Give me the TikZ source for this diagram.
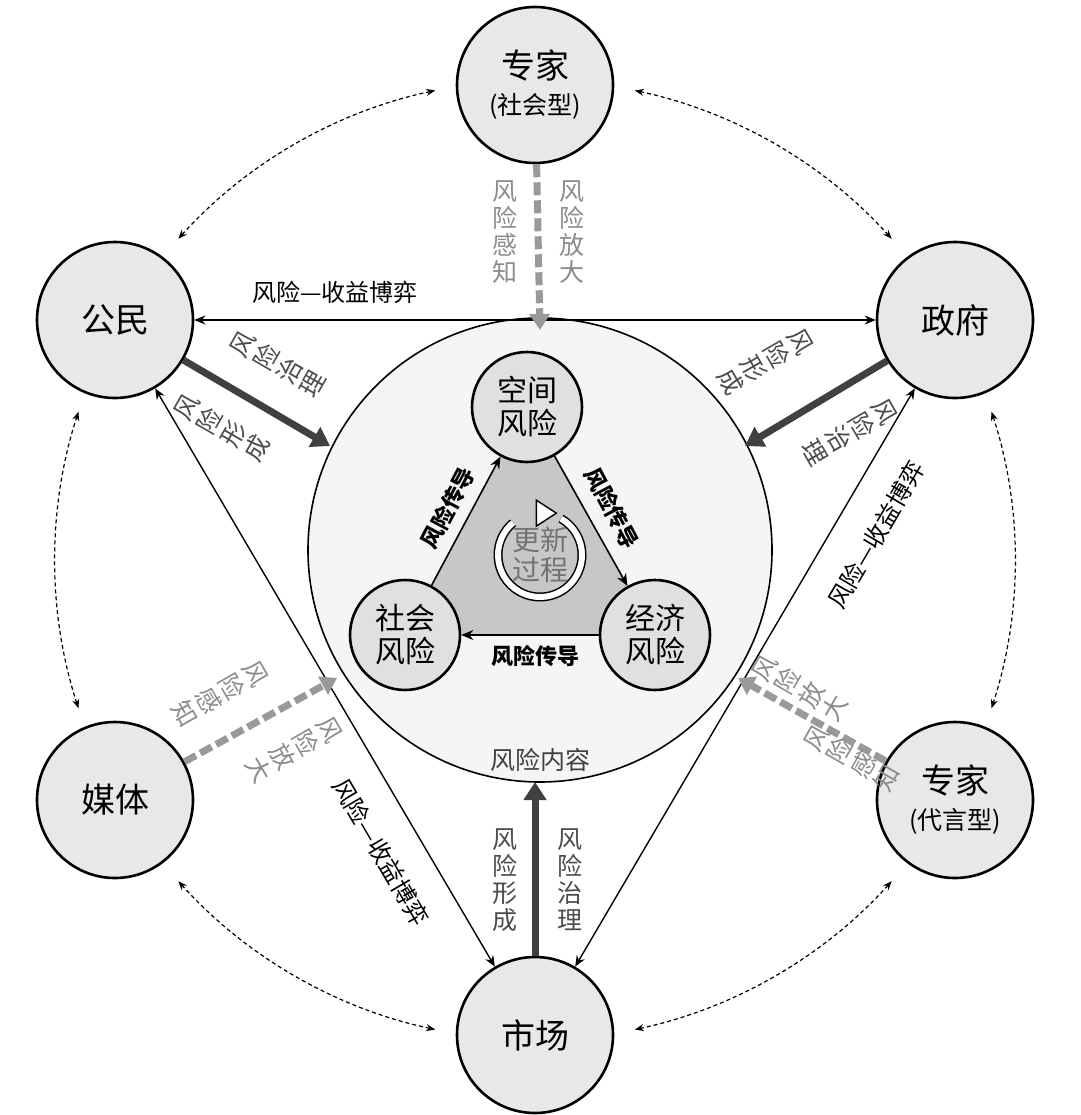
\documentclass[tikz,border=0pt]{standalone}
\usepackage{fontspec}
\setmainfont{Noto Sans CJK SC}
\usetikzlibrary{arrows.meta,calc}
\begin{document}
\begin{tikzpicture}[x=1pt,y=-1pt,
  outer/.style={circle,draw,line width=2.6pt,fill=black!9,minimum size=156pt,inner sep=0pt,align=center,font=\fontsize{34}{38}\selectfont},
  inner/.style={circle,draw,line width=2.6pt,fill=black!12,minimum size=110pt,inner sep=0pt,align=center,font=\fontsize{30}{33}\selectfont},
  vlab/.style={align=center,font=\fontsize{25}{27}\selectfont,inner sep=1pt},
  dlab/.style={font=\fontsize{24}{26}\selectfont,inner sep=1pt},
  thinlink/.style={line width=1.4pt,{Stealth[length=11pt,width=9pt]}-{Stealth[length=11pt,width=9pt]}},
  ringdash/.style={line width=1.2pt,dash pattern=on 4pt off 3pt,{Stealth[length=9pt,width=7pt]}-{Stealth[length=9pt,width=7pt]}},
  bigarrow/.style={line width=7pt,black!75,-{Triangle[length=18pt,width=22pt]}},
  garrow/.style={line width=7pt,black!40,dash pattern=on 13pt off 5pt,-{Triangle[length=16pt,width=20pt]}},
  tri/.style={line width=1.6pt,-{Stealth[length=12pt,width=10pt]}},
  tlab/.style={font=\bfseries\fontsize{22}{24}\selectfont,inner sep=1pt}]
\useasboundingbox (0,0) rectangle (1080,1115);
\coordinate (c) at (535,560);
% big circle
\node[circle,draw,line width=1.6pt,fill=black!4,minimum size=464pt,inner sep=0pt] (big) at (540,550) {};
\node[font=\fontsize{25}{27}\selectfont,text=black!75] (nr) at (540,760) {风险内容};
% outer nodes
\node[outer] (ez) at (535,85) {专家\\[-2pt]{\fontsize{25}{28}\selectfont (社会型)}};
\node[outer] (gm) at (115,320) {公民};
\node[outer] (zf) at (955,320) {政府};
\node[outer] (mt) at (115,800) {媒体};
\node[outer] (ed) at (955,800) {专家\\[-2pt]{\fontsize{25}{28}\selectfont (代言型)}};
\node[outer] (sc) at (535,1035) {市场};
% dashed ring
\foreach \a/\b in {-78/-42,-18/18,42/78,102/138,162/198,222/258}{
  \draw[ringdash] ($(c)+(\a:480)$) arc[start angle=\a,end angle=\b,radius=480];}
% solid links
\draw[thinlink] (gm) -- (zf);
\node[dlab] (l1) at (335,292) {风险—收益博弈};
\draw[thinlink] (gm) -- (sc);
\draw[thinlink] (zf) -- (sc);
\node[dlab,rotate=-59.6] (l2) at (381,852) {风险—收益博弈};
\node[dlab,rotate=59.6] (l3) at (876,535) {风险—收益博弈};
% thick arrows
\coordinate (a1) at (330,446);
\coordinate (a2) at (745,446);
\coordinate (a3) at (535,782);
\coordinate (g1) at (540,330);
\coordinate (g2) at (337,678);
\coordinate (g3) at (738,678);
\draw[bigarrow] (gm) -- (a1);
\draw[bigarrow] (zf) -- (a2);
\draw[bigarrow] (sc) -- (a3);
\draw[garrow] (ez) -- (g1);
\draw[garrow] (mt) -- (g2);
\draw[garrow] (ed) -- (g3);
% labels
\node[vlab,text=black!45] (t1) at (505,232) {风\\险\\感\\知};
\node[vlab,text=black!45] (t2) at (572,232) {风\\险\\放\\大};
\node[vlab,text=black!70] (t3) at (505,880) {风\\险\\形\\成};
\node[vlab,text=black!70] (t4) at (570,880) {风\\险\\治\\理};
\node[vlab,text=black!70,rotate=60] (t5) at (278,364) {风\\险\\治\\理};
\node[vlab,text=black!70,rotate=60] (t6) at (222,428) {风\\险\\形\\成};
\node[vlab,text=black!70,rotate=-60] (t7) at (765,362) {风\\险\\形\\成};
\node[vlab,text=black!70,rotate=-60] (t8) at (850,432) {风\\险\\治\\理};
\node[vlab,text=black!45,rotate=-60] (t9) at (220,694) {风\\险\\感\\知};
\node[vlab,text=black!45,rotate=-60] (t10) at (294,750) {风\\险\\放\\大};
\node[vlab,text=black!45,rotate=60] (t11) at (800,688) {风\\险\\放\\大};
\node[vlab,text=black!45,rotate=60] (t12) at (852,758) {风\\险\\感\\知};
% inner triangle
\fill[black!22] (527,407) -- (405,635) -- (655,635) -- cycle;
\node[inner] (kj) at (527,407) {空间\\风险};
\node[inner] (sh) at (405,635) {社会\\风险};
\node[inner] (jj) at (655,635) {经济\\风险};
\draw[tri] (sh) -- (kj);
\draw[tri] (kj) -- (jj);
\draw[tri] (jj) -- (sh);
\node[tlab,rotate=62] (r1) at (448,508) {风险传导};
\node[tlab,rotate=-62] (r2) at (612,508) {风险传导};
\node[tlab] (r3) at (535,656) {风险传导};
% renewal
\coordinate (rc) at (540,555);
\draw[line width=9pt] ($(rc)+(-60:42)$) arc[start angle=-60,end angle=230,radius=42];
\draw[line width=6pt,white] ($(rc)+(-60:42)$) arc[start angle=-60,end angle=230,radius=42];
\draw[fill=white,line width=1.4pt] ($(rc)+(-95:42)+(0,-13)$) -- ($(rc)+(-95:42)+(20,0)$) -- ($(rc)+(-95:42)+(0,13)$) -- cycle;
\node[font=\fontsize{28}{30}\selectfont,text=black!55,align=center] (gx) at (rc) {更新\\过程};
\end{tikzpicture}
\end{document}
